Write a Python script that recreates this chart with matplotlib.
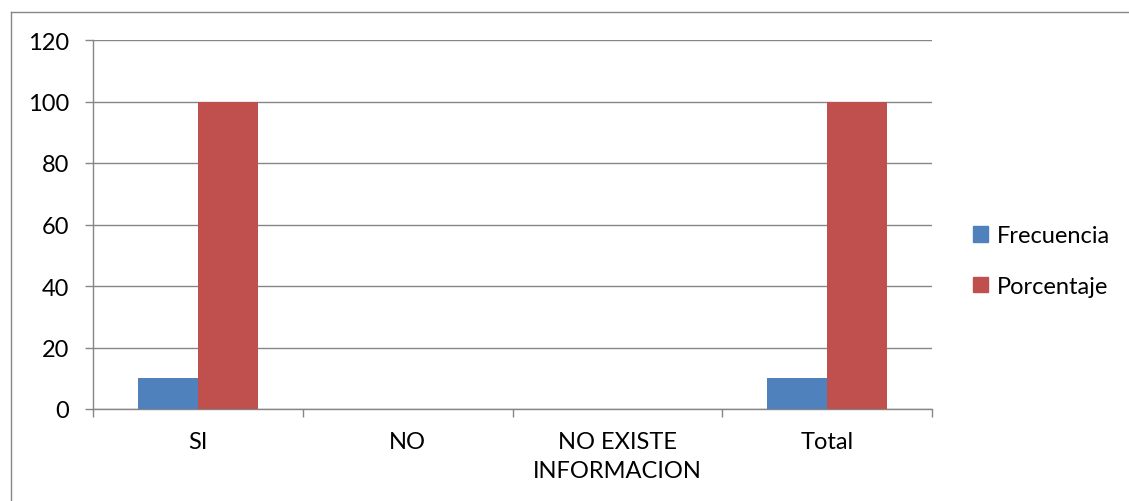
import matplotlib
matplotlib.use("Agg")
import matplotlib.pyplot as plt
import numpy as np
from matplotlib.lines import Line2D
from matplotlib.patches import Patch

categories = ["SI", "NO", "NO EXISTE\nINFORMACION", "Total"]
frecuencia = [10, 0, 0, 10]
porcentaje = [100, 0, 0, 100]
yticks = [0, 20, 40, 60, 80, 100, 120]

plt.rcParams['font.family'] = ['Lato', 'DejaVu Sans']
gray = '#868686'
blue = '#4F81BD'
red = '#C0504D'
fs = 17

fig = plt.figure(figsize=(11.29, 5.02), dpi=100)
ax = fig.add_axes([93/1129, 1-410/502, (932-93)/1129, (410-41)/502])

x = np.arange(len(categories)) + 0.5
w = 60/210
ax.bar(x - w/2, frecuencia, width=w, color=blue, zorder=3)
ax.bar(x + w/2, porcentaje, width=w, color=red, zorder=3)

ax.set_xlim(0, len(categories))
ax.set_ylim(0, 120)
ax.set_yticks(yticks)
ax.yaxis.grid(True, color=gray, linewidth=1.0, zorder=0)
ax.set_axisbelow(True)
ax.set_xticks(np.arange(len(categories) + 1))
ax.set_xticklabels([])
ax.set_xticks(x, minor=True)
ax.set_xticklabels(categories, minor=True, fontsize=fs, linespacing=1.45)
ax.tick_params(axis='x', which='minor', length=0, pad=16)
ax.tick_params(axis='x', which='major', length=6, color=gray, width=1)
ax.tick_params(axis='y', length=6, color=gray, width=1, labelsize=fs, pad=11)
for s in ['top', 'right']:
    ax.spines[s].set_visible(False)
for s in ['left', 'bottom']:
    ax.spines[s].set_color(gray)
    ax.spines[s].set_linewidth(1.0)

handles = [Patch(color=blue, label='Frecuencia'), Patch(color=red, label='Porcentaje')]
fig.legend(handles=handles, loc='center left', bbox_to_anchor=(973/1129, 1-262/502),
           frameon=False, fontsize=fs, handlelength=0.65, handleheight=0.65,
           handletextpad=0.35, labelspacing=1.25, borderpad=0, borderaxespad=0)

# outer chart border (top and left visible)
fig.add_artist(Line2D([11/1129, 1], [1-12.5/502, 1-12.5/502], color=gray, linewidth=1.0, transform=fig.transFigure))
fig.add_artist(Line2D([11/1129, 11/1129], [0, 1-12.5/502], color=gray, linewidth=1.0, transform=fig.transFigure))

fig.savefig("out.png", dpi=100)
